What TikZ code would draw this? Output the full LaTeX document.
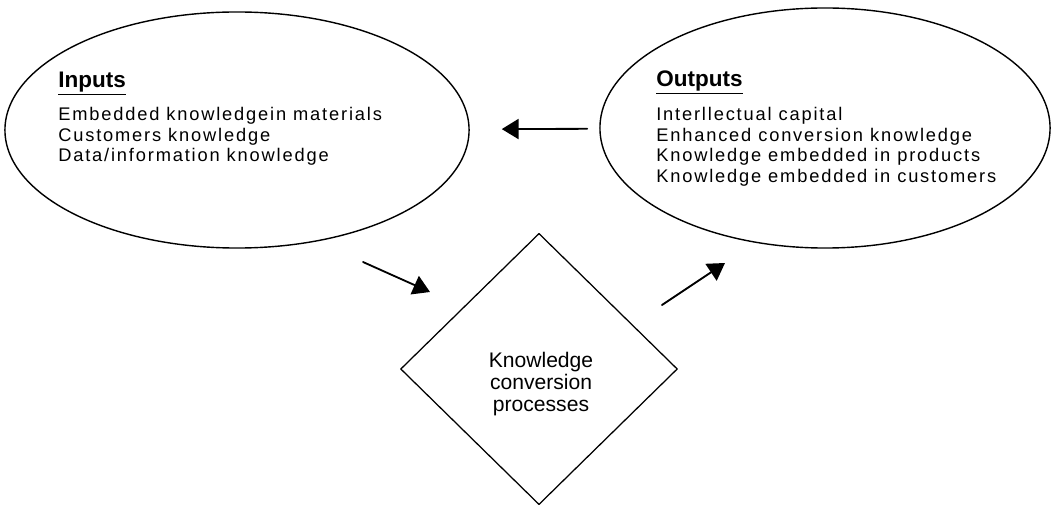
\documentclass[tikz,border=0pt]{standalone}
\usepackage{fontspec}
\setmainfont{Liberation Sans}
\newfontfamily\listfont[LetterSpace=10]{Liberation Sans}
\usetikzlibrary{arrows.meta,shapes.geometric}

\begin{document}
\begin{tikzpicture}[line cap=round,line join=round,x=0.025cm,y=-0.025cm,
    blob/.style={draw,ellipse,line width=1pt,inner sep=0pt},
    heading/.style={inner sep=0pt,anchor=base west,font=\fontsize{16}{18}\selectfont\bfseries},
    items/.style={inner sep=0pt,anchor=north west,align=left,font=\listfont\fontsize{13}{14.6}\selectfont},
    flow/.style={line width=1.3pt,-{Triangle[length=0.42cm,width=0.5cm]}}]
                \useasboundingbox (0,0) rectangle (1052,505);
                \node [blob,minimum width=11.6cm,minimum height=5.9cm] (inputs) at (237,130) {};
                \node [blob,minimum width=11.25cm,minimum height=6cm] (outputs) at (825,128) {};
                \node [draw,diamond,line width=0.9pt,inner sep=0pt,minimum width=6.92cm,minimum height=6.78cm] (kcp) at (539,369) {};
                \node [heading] (inhead) at (58,88) {\underline{Inputs}};
                \node [items] (initems) at (58,107) {Embedded knowledgein materials\\Customers knowledge\\Data/information knowledge};
                \node [heading] (outhead) at (656,87) {\underline{Outputs}};
                \node [items] (outitems) at (656,107) {Interllectual capital\\Enhanced conversion knowledge\\Knowledge embedded in products\\Knowledge embedded in customers};
                \node [align=center,inner sep=0pt,font=\fontsize{15}{15.6}\selectfont] (kcptext) at (541,384) {Knowledge\\conversion\\processes};
                \coordinate (inbase) at (363,262);
                \coordinate (kcpin) at (430,292);
                \coordinate (kcpout) at (662,305);
                \coordinate (outbase) at (725,263);
                \draw [flow] (inbase) -- (kcpin);
                \draw [flow] (kcpout) -- (outbase);
                \draw [flow,shorten <=0.3cm,shorten >=0.8cm] (outputs) -- (inputs);
\end{tikzpicture}
\end{document}
